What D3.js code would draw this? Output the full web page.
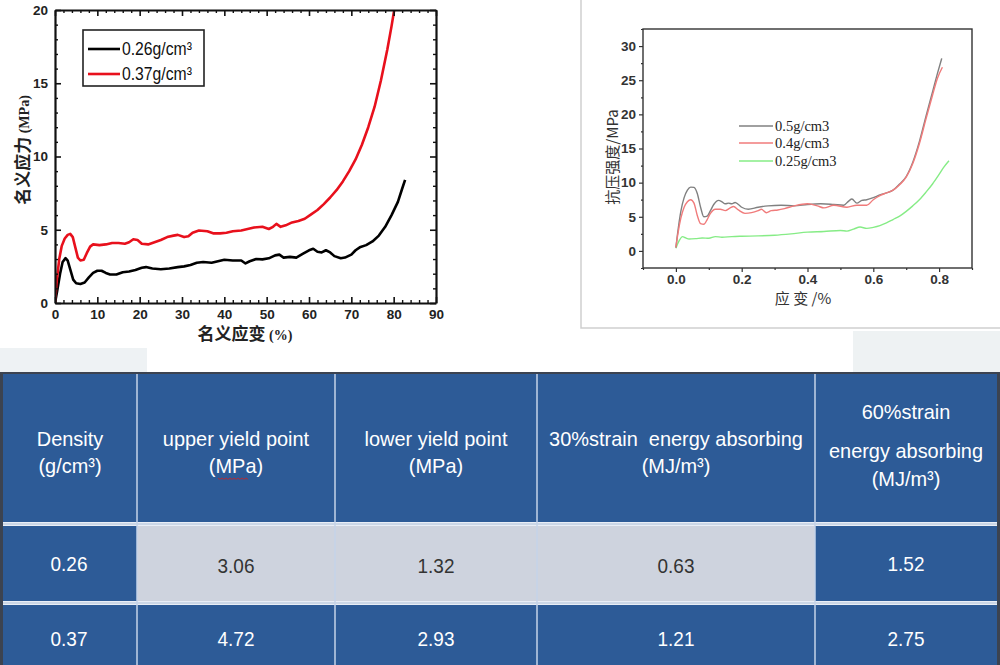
<!DOCTYPE html>
<html><head><meta charset="utf-8">
<script src="https://cdn.jsdelivr.net/npm/d3@7/dist/d3.min.js"></script>
<style>body{margin:0;background:#fff;} svg{display:block;} text{white-space:pre;}</style>
</head><body><svg id="c" width="1000" height="665"></svg>
<script>
// ---------- Chart 1 data (nominal strain %, nominal stress MPa) ----------
const strain026 = [0,0.5,1.2,1.8,2.5,3.0,3.6,4.3,5.0,6.0,7.0,8.0,9.0,10.0,11.0,12.0,13.0,14.5,16.0,17.5,19.0,20.5,21.5,23.0,25.0,27.0,29.0,30.5,32.0,33.5,35.0,37.0,38.5,40.0,42.0,44.0,45.0,46.0,47.5,49.0,50.5,52.0,53.0,54.0,55.5,57.0,58.5,60.0,61.0,62.0,63.0,64.0,65.0,66.0,67.5,68.5,70.0,71.0,72.0,73.5,75.0,76.5,78.0,79.5,81.0,82.0,82.7];
const stress026 = [0,0.8,2.0,2.8,3.06,2.9,2.3,1.6,1.35,1.3,1.4,1.75,2.05,2.2,2.2,2.05,1.95,1.95,2.1,2.15,2.25,2.4,2.45,2.35,2.3,2.35,2.45,2.5,2.6,2.75,2.8,2.75,2.85,2.95,2.9,2.9,2.7,2.85,3.0,2.98,3.05,3.25,3.3,3.1,3.15,3.1,3.35,3.6,3.7,3.5,3.45,3.6,3.45,3.2,3.05,3.1,3.3,3.6,3.8,3.95,4.2,4.6,5.2,6.0,6.9,7.8,8.4];
const strain037 = [0,0.4,1.0,1.6,2.3,3.0,3.6,4.2,4.8,5.4,6.0,6.8,7.5,8.3,9.0,10.5,12.0,13.5,15.0,16.5,17.5,18.5,19.5,20.5,22.0,23.5,25.0,26.5,28.0,29.0,30.5,31.5,32.5,34.0,36.0,37.5,39.0,40.5,42.0,44.0,45.5,47.0,49.0,50.5,51.5,52.3,53.3,54.5,56.0,57.5,59.0,60.5,62.0,63.5,65.0,66.5,68.0,69.5,71.0,72.5,74.0,75.5,77.0,78.5,79.5,80.3];
const stress037 = [0,1.5,3.0,3.9,4.4,4.65,4.72,4.5,3.8,3.1,2.9,2.95,3.4,3.85,4.0,3.95,4.0,4.1,4.1,4.05,4.15,4.35,4.3,4.05,4.0,4.15,4.3,4.5,4.6,4.65,4.5,4.55,4.8,4.95,4.9,4.75,4.75,4.8,4.9,4.95,5.05,5.15,5.2,5.05,5.2,5.4,5.2,5.3,5.5,5.6,5.75,6.05,6.35,6.75,7.2,7.7,8.3,9.0,9.8,10.8,12.0,13.4,15.2,17.3,18.9,20.3];
const legend1 = ["0.26g/cm³","0.37g/cm³"];
const xTicks1 = [0,10,20,30,40,50,60,70,80,90];
const yTicks1 = [0,5,10,15,20];

// ---------- Chart 2 data (strain, compressive strength MPa) ----------
const strain05 = [0,0.005,0.015,0.025,0.035,0.045,0.055,0.065,0.075,0.085,0.095,0.105,0.115,0.13,0.14,0.15,0.16,0.17,0.18,0.19,0.20,0.22,0.25,0.28,0.32,0.36,0.40,0.44,0.48,0.51,0.525,0.535,0.55,0.565,0.58,0.60,0.62,0.64,0.66,0.68,0.70,0.72,0.74,0.76,0.78,0.795,0.808];
const stress05 = [0.5,2.5,5.8,7.8,8.9,9.35,9.3,8.4,6.4,5.0,5.1,5.9,6.8,7.4,7.2,6.9,7.0,6.9,7.1,6.8,6.4,6.1,6.4,6.6,6.7,6.6,6.8,6.9,6.8,6.7,7.3,7.6,7.0,7.4,7.5,7.8,8.2,8.5,8.9,9.8,10.9,13.0,16.0,19.7,23.3,26.0,28.2];
const strain04 = [0,0.005,0.015,0.025,0.035,0.045,0.055,0.065,0.075,0.085,0.095,0.105,0.12,0.135,0.15,0.165,0.175,0.19,0.21,0.23,0.25,0.26,0.275,0.29,0.31,0.33,0.36,0.40,0.43,0.45,0.48,0.52,0.55,0.58,0.60,0.62,0.64,0.66,0.68,0.70,0.72,0.74,0.76,0.78,0.795,0.81];
const stress04 = [0.5,2.2,4.8,6.4,7.2,7.5,7.0,5.2,4.0,3.9,4.6,5.5,6.1,6.1,5.9,6.3,6.5,6.0,5.5,5.6,5.9,6.1,5.6,5.9,6.0,6.2,6.6,6.9,6.6,6.3,6.7,6.4,6.7,6.7,7.5,8.1,8.5,8.9,9.7,10.8,12.8,15.7,19.3,22.8,25.3,26.9];
const strain025 = [0,0.01,0.02,0.03,0.04,0.06,0.08,0.10,0.12,0.14,0.17,0.20,0.25,0.30,0.35,0.40,0.45,0.50,0.52,0.54,0.56,0.58,0.60,0.62,0.64,0.66,0.68,0.70,0.72,0.74,0.76,0.78,0.80,0.815,0.83];
const stress025 = [0.4,1.5,2.1,1.9,1.75,1.8,1.9,1.85,2.1,2.0,2.1,2.15,2.2,2.3,2.5,2.75,2.85,3.0,2.9,3.2,3.5,3.3,3.45,3.7,4.1,4.6,5.1,5.8,6.6,7.5,8.6,9.8,11.2,12.3,13.2];
const legend2 = ["0.5g/cm3","0.4g/cm3","0.25g/cm3"];
const xTicks2 = [0,0.2,0.4,0.6,0.8];
const yTicks2 = [0,5,10,15,20,25,30];

// ---------- Table data ----------
const tableHeaders = [["Density","(g/cm³)"],["upper yield point","(MPa)"],["lower yield point","(MPa)"],["30%strain  energy absorbing","(MJ/m³)"],["60%strain","energy absorbing","(MJ/m³)"]];
const densities = ["0.26","0.37"];
const upperYield = ["3.06","4.72"];
const lowerYield = ["1.32","2.93"];
const energy30 = ["0.63","1.21"];
const energy60 = ["1.52","2.75"];

const svg = d3.select("#c");
svg.append("rect").attr("width",1000).attr("height",665).attr("fill","#fff");
const SANS = "Liberation Sans, Arial, sans-serif";
const CJK = "Noto Sans CJK SC, sans-serif";

// ================= Chart 1 =================
const x1 = d3.scaleLinear().domain([0,90]).range([55,436]);
const y1 = d3.scaleLinear().domain([0,20]).range([303,10]);
const g1 = svg.append("g");
g1.append("clipPath").attr("id","clip1").append("rect")
  .attr("x",x1(0)).attr("y",y1(20)).attr("width",x1(90)-x1(0)).attr("height",y1(0)-y1(20));
const line1 = d3.line().x(d=>x1(d[0])).y(d=>y1(d[1]));
const series1 = [[strain026,stress026,"#000"],[strain037,stress037,"#e8101c"]];
series1.forEach(s=>{
  g1.append("path").attr("clip-path","url(#clip1)")
    .attr("d", line1(d3.zip(s[0],s[1])))
    .attr("fill","none").attr("stroke",s[2]).attr("stroke-width",2.6).attr("stroke-linejoin","round");
});
function styleAx(sel, w){
  sel.selectAll(".domain").attr("stroke","#111").attr("stroke-width",w);
  sel.selectAll(".tick line").attr("stroke","#111").attr("stroke-width",1.6);
}
const minorX1 = d3.range(0,91,2).filter(v=>v%10!==0);
const minorY1 = d3.range(0,21,1).filter(v=>v%5!==0);
[[d3.axisBottom(x1),303],[d3.axisTop(x1),10]].forEach(a=>{
  const s=g1.append("g").attr("transform",`translate(0,${a[1]})`).call(a[0].tickValues(minorX1).tickSize(-3).tickSizeOuter(0).tickFormat(""));
  s.select(".domain").remove(); s.selectAll(".tick line").attr("stroke","#111").attr("stroke-width",1.4);
});
[[d3.axisLeft(y1),55],[d3.axisRight(y1),436]].forEach(a=>{
  const s=g1.append("g").attr("transform",`translate(${a[1]},0)`).call(a[0].tickValues(minorY1).tickSize(-3).tickSizeOuter(0).tickFormat(""));
  s.select(".domain").remove(); s.selectAll(".tick line").attr("stroke","#111").attr("stroke-width",1.4);
});
const ax1b = g1.append("g").attr("transform","translate(0,303)")
  .call(d3.axisBottom(x1).tickValues(xTicks1).tickSize(-6).tickSizeOuter(0).tickPadding(6));
const ax1t = g1.append("g").attr("transform","translate(0,10)")
  .call(d3.axisTop(x1).tickValues(xTicks1).tickSize(-6).tickSizeOuter(0).tickFormat(""));
const ax1l = g1.append("g").attr("transform","translate(55,0)")
  .call(d3.axisLeft(y1).tickValues(yTicks1).tickSize(-6).tickSizeOuter(0).tickPadding(7));
const ax1r = g1.append("g").attr("transform","translate(436,0)")
  .call(d3.axisRight(y1).tickValues(yTicks1).tickSize(-6).tickSizeOuter(0).tickFormat(""));
[ax1b,ax1t,ax1l,ax1r].forEach(a=>styleAx(a,2.2));
[ax1b,ax1l].forEach(a=>a.selectAll("text").attr("font-family",SANS).attr("font-weight","bold").attr("font-size",13.5).attr("fill","#222"));

// legend 1
const lg1 = g1.append("g");
lg1.append("rect").attr("x",83).attr("y",30).attr("width",121).attr("height",56).attr("fill","#fff").attr("stroke","#222").attr("stroke-width",1.6);
legend1.forEach((t,i)=>{
  const yy = 49 + i*25;
  lg1.append("line").attr("x1",88).attr("x2",120).attr("y1",yy).attr("y2",yy).attr("stroke",series1[i][2]).attr("stroke-width",2.6);
  lg1.append("text").attr("transform",`translate(122,${yy+6}) scale(0.9,1)`).attr("font-family",SANS).attr("font-size",17.5).attr("fill","#111").text(t);
});
// axis titles
const yt1 = g1.append("text").attr("transform","translate(29,150) rotate(-90)").attr("text-anchor","middle");
yt1.append("tspan").attr("font-family",CJK).attr("font-weight","bold").attr("font-size",17).attr("fill","#222").text("名义应力");
yt1.append("tspan").attr("font-family","Liberation Serif, serif").attr("font-weight","bold").attr("font-size",14).attr("fill","#222").text(" (MPa)");
const xt1 = g1.append("text").attr("x",245).attr("y",340).attr("text-anchor","middle");
xt1.append("tspan").attr("font-family",CJK).attr("font-weight","bold").attr("font-size",17).attr("fill","#222").text("名义应变");
xt1.append("tspan").attr("font-family","Liberation Serif, serif").attr("font-weight","bold").attr("font-size",14).attr("fill","#222").text(" (%)");

// ================= Chart 2 =================
const g2 = svg.append("g");
g2.append("path").attr("d","M581,0V328H1000").attr("fill","none").attr("stroke","#cfcfcf").attr("stroke-width",1.5);
const x2 = d3.scaleLinear().domain([-0.1,0.9]).range([643,972]);
const y2 = d3.scaleLinear().domain([-2.5,32.5]).range([268,29]);
const line2 = d3.line().x(d=>x2(d[0])).y(d=>y2(d[1])).curve(d3.curveMonotoneX);
const series2 = [[strain05,stress05,"#808080"],[strain04,stress04,"#f07b7b"],[strain025,stress025,"#86ec86"]];
[series2[2],series2[0],series2[1]].forEach(s=>{
  g2.append("path").attr("d",line2(d3.zip(s[0],s[1]))).attr("fill","none").attr("stroke",s[2]).attr("stroke-width",1.4);
});
g2.append("rect").attr("x",643).attr("y",29).attr("width",329).attr("height",239).attr("fill","none").attr("stroke","#333").attr("stroke-width",1.4);
const ax2b = g2.append("g").attr("transform","translate(0,268)")
  .call(d3.axisBottom(x2).tickValues(xTicks2).tickSize(4).tickSizeOuter(0).tickPadding(2).tickFormat(d3.format(".1f")));
const ax2bm = g2.append("g").attr("transform","translate(0,268)")
  .call(d3.axisBottom(x2).tickValues([-0.1,0.1,0.3,0.5,0.7,0.9]).tickSize(2).tickSizeOuter(0).tickFormat(""));
const ax2l = g2.append("g").attr("transform","translate(643,0)")
  .call(d3.axisLeft(y2).tickValues(yTicks2).tickSize(4).tickSizeOuter(0).tickPadding(3));
const ax2lm = g2.append("g").attr("transform","translate(643,0)")
  .call(d3.axisLeft(y2).tickValues(d3.range(-2.5,33,5)).tickSize(2).tickSizeOuter(0).tickFormat(""));
[ax2b,ax2bm,ax2l,ax2lm].forEach(a=>{a.select(".domain").remove();a.selectAll(".tick line").attr("stroke","#333").attr("stroke-width",1.2);});
[ax2b,ax2l].forEach(a=>a.selectAll("text").attr("font-family",SANS).attr("font-weight","bold").attr("font-size",13.5).attr("fill","#333"));
legend2.forEach((t,i)=>{
  const yy = [126,143,161][i];
  g2.append("line").attr("x1",739).attr("x2",773).attr("y1",yy).attr("y2",yy).attr("stroke",series2[i][2]).attr("stroke-width",1.4);
  g2.append("text").attr("x",775).attr("y",yy+5).attr("font-family","Liberation Serif, serif").attr("font-size",14.5).attr("fill","#222").text(t);
});
g2.append("text").attr("x",803).attr("y",304).attr("text-anchor","middle").attr("font-family",CJK).attr("font-size",15).attr("fill","#333").text("应 变 /%");
g2.append("text").attr("transform","translate(618,157) rotate(-90)").attr("text-anchor","middle").attr("font-family",CJK).attr("font-size",15).attr("fill","#333").text("抗压强度/MPa");

// ================= Table =================
const gt = svg.append("g");
gt.append("rect").attr("x",0).attr("y",348).attr("width",147).attr("height",25).attr("fill","#eef2f4");
gt.append("rect").attr("x",853).attr("y",331).attr("width",147).attr("height",42).attr("fill","#eef2f3");
const colX = [3,137,335,537,815,997];
const rowY = [[374,522],[526,601],[605,665]];
const BLUE = "#2d5b97", GRAY = "#ced3de";
gt.append("rect").attr("x",0).attr("y",372).attr("width",1000).attr("height",293).attr("fill","#3c4350");
const rows = [null, [densities[0],upperYield[0],lowerYield[0],energy30[0],energy60[0]], [densities[1],upperYield[1],lowerYield[1],energy30[1],energy60[1]]];
rowY.forEach((r,ri)=>{
  for(let c=0;c<5;c++){
    const gray = ri===1 && c>=1 && c<=3;
    gt.append("rect").attr("x",colX[c]).attr("y",r[0]).attr("width",colX[c+1]-colX[c]).attr("height",r[1]-r[0]).attr("fill",gray?GRAY:BLUE);
  }
});
[522,601].forEach(y=>{
  gt.append("rect").attr("x",colX[0]).attr("y",y).attr("width",colX[5]-colX[0]).attr("height",4).attr("fill","#e9eef6");
  gt.append("line").attr("x1",colX[0]).attr("x2",colX[5]).attr("y1",y+2).attr("y2",y+2).attr("stroke","#9fb4d2").attr("stroke-width",0.8);
});
colX.slice(1,5).forEach(x=>{
  gt.append("line").attr("x1",x).attr("x2",x).attr("y1",374).attr("y2",665).attr("stroke","#c4d3e8").attr("stroke-width",1.5);
});
function tText(x,y,str,size,fill){
  gt.append("text").attr("transform",`translate(${x},${y}) scale(0.95,1)`).attr("text-anchor","middle")
    .attr("font-family",SANS).attr("font-size",size).attr("fill",fill).text(str);
}
tableHeaders.forEach((lines,c)=>{
  const mid = (colX[c]+colX[c+1])/2;
  const ys = lines.length===3 ? [419,458,486] : [446,473];
  lines.forEach((ln,k)=>tText(mid,ys[k],ln,21,"#fff"));
});
gt.append("path").attr("d",d3.range(0,16).map((i)=>(i===0?"M":"L")+(218+i*2)+","+(478+(i%2)*1.5)).join("")).attr("fill","none").attr("stroke","#d02020").attr("stroke-width",0.8);
[1,2].forEach(ri=>{
  const base = ri===1 ? 571 : 646;
  rows[ri].forEach((v,c)=>{
    const mid = (colX[c]+colX[c+1])/2;
    const gray = ri===1 && c>=1 && c<=3;
    tText(mid - (c===0?1:0), base + (gray?2:0), v, 20, gray?"#333":"#fff");
  });
});
</script></body></html>
